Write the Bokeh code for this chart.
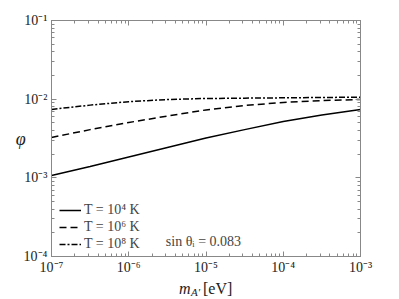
import numpy as np
from bokeh.plotting import figure
from bokeh.layouts import column
from bokeh.models import (LogAxis, Label, Legend, LegendItem,
                          CustomJSTickFormatter, Range1d, LogTicker)
from bokeh.core.properties import value
from bokeh.embed import file_html
from bokeh.resources import INLINE

# data
mass = [1e-7, 10**-6.5, 1e-6, 10**-5.5, 1e-5, 10**-4.5, 1e-4, 10**-3.5, 1e-3]
phi_T4 = [1.07e-3, 1.39e-3, 1.84e-3, 2.43e-3, 3.2e-3, 4.1e-3, 5.2e-3, 6.3e-3, 7.4e-3]
phi_T6 = [3.26e-3, 4.1e-3, 5.05e-3, 6.1e-3, 7.3e-3, 8.3e-3, 9.1e-3, 9.6e-3, 9.9e-3]
phi_T8 = [7.4e-3, 8.4e-3, 9.3e-3, 9.9e-3, 1.02e-2, 1.03e-2, 1.04e-2, 1.05e-2, 1.06e-2]
labels = ["T = 10\u2074 K", "T = 10\u2076 K", "T = 10\u2078 K"]
annot = "sin \u03b8\u1d62 = 0.083"
xlabel_parts = ["m", "A\u2032", "[eV]"]
ylabel = "\u03c6"

FONT = "Liberation Serif"

p = figure(width=390, height=277, x_axis_type="log", y_axis_type="log",
           x_range=Range1d(1e-7, 1e-3), y_range=Range1d(1e-4, 1e-1),
           output_backend="svg", toolbar_location=None,
           min_border_left=51, min_border_top=20, min_border_right=30,
           min_border_bottom=20)
p.frame_width = 309
p.frame_height = 236
p.grid.visible = False
p.outline_line_color = "#888888"
p.background_fill_color = "white"
p.border_fill_color = "white"

sup = CustomJSTickFormatter(code="""
const m = {'-':'\u207b','0':'\u2070','1':'\u00b9','2':'\u00b2','3':'\u00b3','4':'\u2074','5':'\u2075','6':'\u2076','7':'\u2077','8':'\u2078','9':'\u2079'};
const e = String(Math.round(Math.log10(tick)));
let s = '';
for (let i = 0; i < e.length; i++) { s += m[e[i]]; }
return '10' + s;
""")

for ax in (p.xaxis[0], p.yaxis[0]):
    ax.formatter = sup
    ax.ticker = LogTicker(num_minor_ticks=10)
    ax.major_tick_in = 5
    ax.major_tick_out = 0
    ax.minor_tick_in = 3
    ax.minor_tick_out = 0
    ax.axis_line_color = "#888888"
    ax.major_tick_line_color = "#888888"
    ax.minor_tick_line_color = "#888888"
    ax.major_label_text_font = FONT
    ax.major_label_text_font_size = "14px"
    ax.major_label_text_color = "#222222"
p.xaxis.major_label_standoff = 3
p.yaxis.major_label_standoff = 4

# y axis label, horizontal
p.yaxis.axis_label = ylabel
p.yaxis.axis_label_orientation = "horizontal"
p.yaxis.axis_label_text_font = FONT
p.yaxis.axis_label_text_font_size = "18px"
p.yaxis.axis_label_text_font_style = "italic"
p.yaxis.axis_label_text_color = "#222222"
p.yaxis.axis_label_standoff = -5

for loc in ("above", "right"):
    ax = LogAxis(ticker=LogTicker(num_minor_ticks=10),
                 major_tick_in=5, major_tick_out=0, minor_tick_in=3, minor_tick_out=0,
                 axis_line_color="#888888", major_tick_line_color="#888888",
                 minor_tick_line_color="#888888", major_label_text_color=None,
                 major_label_standoff=0)
    p.add_layout(ax, loc)

r1 = p.line(mass, phi_T4, line_color="black", line_width=1.5)
r2 = p.line(mass, phi_T6, line_color="black", line_width=1.5, line_dash="7 4")
r3 = p.line(mass, phi_T8, line_color="black", line_width=1.5, line_dash="6 2 2 2")

legend = Legend(items=[LegendItem(label=labels[0], renderers=[r1]),
                       LegendItem(label=labels[1], renderers=[r2]),
                       LegendItem(label=labels[2], renderers=[r3])],
                location=(8, 4), padding=1, margin=0, spacing=1,
                glyph_width=22, glyph_height=14, label_height=14,
                label_standoff=3, border_line_color=None,
                background_fill_alpha=0,
                label_text_font=FONT, label_text_font_size="14px")
p.add_layout(legend, "center")

p.add_layout(Label(x=10**-5.52, y=10**-3.81, text=annot, text_font=FONT,
                   text_font_size="14px", text_baseline="middle", text_align="left"))

# strip below the plot holding the x-axis label m_{A'} [eV]
q = figure(width=390, height=19, x_axis_type="log",
           x_range=p.x_range, y_range=Range1d(0, 1),
           x_axis_location=None, y_axis_location=None,
           output_backend="svg", toolbar_location=None,
           min_border_left=51, min_border_right=30, min_border_top=0,
           min_border_bottom=0, outline_line_color=None)
q.frame_width = 309
q.frame_height = 19
q.grid.visible = False
q.border_fill_color = "white"

anchor = [1e-5]
q.text(x=anchor, y=[0.4], text=[xlabel_parts[0]], x_offset=-27,
       text_font=value(FONT), text_font_size="16px", text_font_style="italic",
       text_baseline="alphabetic", text_align="left", text_color="#222222")
q.text(x=anchor, y=[0.22], text=[xlabel_parts[1]], x_offset=-15,
       text_font=value(FONT), text_font_size="11px", text_font_style="italic",
       text_baseline="alphabetic", text_align="left", text_color="#222222")
q.text(x=anchor, y=[0.4], text=[xlabel_parts[2]], x_offset=-3,
       text_font=value(FONT), text_font_size="16px",
       text_baseline="alphabetic", text_align="left", text_color="#222222")

layout = column(p, q, spacing=0)
open("out.html", "w").write(file_html(layout, INLINE))
